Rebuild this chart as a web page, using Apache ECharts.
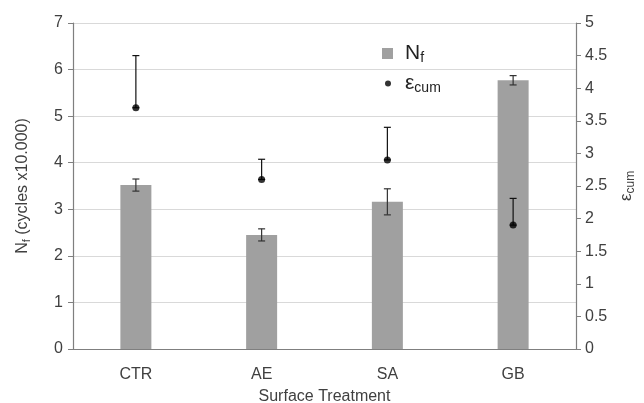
<!DOCTYPE html>
<html><head><meta charset="utf-8">
<script src="https://cdn.jsdelivr.net/npm/echarts@6/dist/echarts.min.js"></script>
<style>html,body{margin:0;padding:0;background:#fff}#c{width:644px;height:403px}</style>
</head><body><div id="c"></div>
<script>
const categories = ['CTR', 'AE', 'SA', 'GB'];
const nfValues = [3.52, 2.45, 3.16, 5.77];
const nfErrors = [0.13, 0.13, 0.28, 0.10];
const epsValues = [3.7, 2.6, 2.9, 1.9];
const epsErrorsPlus = [0.8, 0.31, 0.5, 0.41];
const leftTicks = {min: 0, max: 7, interval: 1};
const rightTicks = {min: 0, max: 5, interval: 0.5};

const font = 'Liberation Sans, Arial, sans-serif';
const txt = '#404040';
const axisCol = '#7f7f7f';

const chart = echarts.init(document.getElementById('c'));

function errRender(capHalf, color) {
  return function (params, api) {
    const x = api.value(0), lo = api.value(1), hi = api.value(2);
    const pLo = api.coord([x, lo]);
    const pHi = api.coord([x, hi]);
    const style = {stroke: color, lineWidth: 1.2};
    return {
      type: 'group',
      children: [
        {type: 'line', shape: {x1: pLo[0], y1: pLo[1], x2: pHi[0], y2: pHi[1]}, style},
        {type: 'line', shape: {x1: pHi[0] - capHalf, y1: pHi[1], x2: pHi[0] + capHalf, y2: pHi[1]}, style},
        {type: 'line', shape: {x1: pLo[0] - capHalf, y1: pLo[1], x2: pLo[0] + capHalf, y2: pLo[1]}, style: lo === hi ? {stroke: 'none'} : style}
      ]
    };
  };
}

const nfErrData = categories.map((c, i) => [i, nfValues[i] - nfErrors[i], nfValues[i] + nfErrors[i]]);
const epsErrData = categories.map((c, i) => [i, epsValues[i], epsValues[i] + epsErrorsPlus[i]]);

const legendRich = {
  a: {fontSize: 21, fontFamily: font, color: '#222'},
  s: {fontSize: 14, fontFamily: font, color: '#222', verticalAlign: 'bottom', padding: [10, 0, 0, 0]}
};

chart.setOption({
  animation: false,
  backgroundColor: '#fff',
  grid: {left: 73, right: 68, top: 23, bottom: 54, outerBoundsMode: 'none', containLabel: false},
  legend: [
    {data: [{name: 'Nf', icon: 'rect'}], left: 377, top: 38, itemWidth: 11, itemHeight: 11, itemGap: 10,
     formatter: () => '{a|N}{s|f}', textStyle: {rich: legendRich, padding: [0, 0, 0, 7]}},
    {data: [{name: 'eps', icon: 'circle'}], left: 380, top: 68, itemWidth: 6, itemHeight: 6,
     formatter: () => '{a|ε}{s|cum}', textStyle: {rich: legendRich, padding: [0, 0, 0, 9]}}
  ],
  xAxis: {
    type: 'category', data: categories,
    axisLine: {lineStyle: {color: axisCol, width: 1.2}},
    axisTick: {show: false},
    axisLabel: {color: txt, fontSize: 16, fontFamily: font, margin: 18},
    name: 'Surface Treatment', nameLocation: 'middle', nameGap: 40,
    nameTextStyle: {color: txt, fontSize: 16, fontFamily: font}
  },
  yAxis: [
    {
      type: 'value', ...leftTicks,
      axisLine: {show: true, lineStyle: {color: axisCol, width: 1.2}},
      axisTick: {show: true, length: 5, lineStyle: {color: axisCol}},
      axisLabel: {color: txt, fontSize: 16, fontFamily: font, margin: 10},
      splitLine: {lineStyle: {color: '#d9d9d9', width: 1}},
      name: '{a|N}{s|f}{a| (cycles x10.000)}', nameLocation: 'middle', nameGap: 41, nameRotate: 90,
      nameTextStyle: {rich: {
        a: {fontSize: 16, fontFamily: font, color: txt},
        s: {fontSize: 11, fontFamily: font, color: txt, verticalAlign: 'bottom', padding: [8, 0, 0, 0]}
      }}
    },
    {
      type: 'value', ...rightTicks, position: 'right',
      axisLine: {show: true, lineStyle: {color: axisCol, width: 1.2}},
      axisTick: {show: true, length: 5, lineStyle: {color: axisCol}},
      axisLabel: {color: txt, fontSize: 16, fontFamily: font, margin: 9},
      splitLine: {show: false},
      name: '{a|ε}{s|cum}', nameLocation: 'middle', nameGap: 40, nameRotate: 90,
      nameTextStyle: {rich: {
        a: {fontSize: 17, fontFamily: font, color: txt},
        s: {fontSize: 12, fontFamily: font, color: txt, verticalAlign: 'bottom', padding: [8, 0, 0, 0]}
      }}
    }
  ],
  series: [
    {name: 'Nf', type: 'bar', data: nfValues, barWidth: 31, yAxisIndex: 0,
     itemStyle: {color: '#a0a0a0'}},
    {name: 'NfErr', type: 'custom', yAxisIndex: 0, data: nfErrData,
     renderItem: errRender(3.5, '#333333'), z: 5},
    {name: 'epsErr', type: 'custom', yAxisIndex: 1, data: epsErrData,
     renderItem: errRender(3.5, '#111111'), z: 5},
    {name: 'eps', type: 'scatter', yAxisIndex: 1, data: epsValues, symbol: 'circle', symbolSize: 7,
     itemStyle: {color: '#000'}, z: 6}
  ]
});
</script></body></html>
